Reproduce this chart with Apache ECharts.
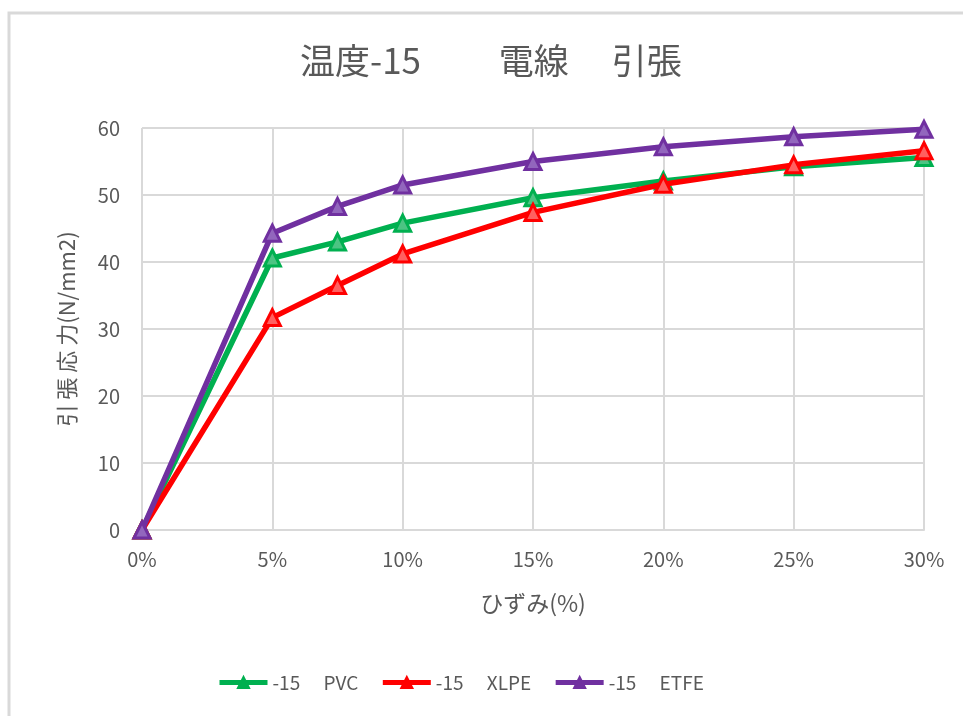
<!DOCTYPE html>
<html>
<head>
<meta charset="utf-8">
<script src="https://cdn.jsdelivr.net/npm/echarts@6/dist/echarts.min.js"></script>
<style>
html,body{margin:0;padding:0;background:#fff;}
#chart{width:963px;height:716px;}
</style>
</head>
<body>
<div id="chart"></div>
<script>
const strainPct = [0, 5, 7.5, 10, 15, 20, 25, 30];
const pvc  = [0, 40.6, 43.0, 45.8, 49.6, 52.1, 54.2, 55.6];
const xlpe = [0, 31.7, 36.5, 41.2, 47.4, 51.6, 54.5, 56.6];
const etfe = [0, 44.3, 48.3, 51.5, 55.0, 57.2, 58.7, 59.8];
const seriesNames = ['-15　 PVC', '-15　 XLPE', '-15　 ETFE'];
const seriesColors = ['#00b050', '#ff0000', '#7030a0'];
const markerFills = ['#4cc483', '#ff6060', '#9266bd'];
const titleText = '温度-15　　 電線　 引張';
const xAxisName = 'ひずみ(%)';
const yAxisName = '引 張 応 力(N/mm2)';

const font = '"Noto Sans CJK JP", "Noto Sans", sans-serif';
const txt = '#595959';
const grid = '#d9d9d9';

function pairs(ys){ return strainPct.map((x,i)=>[x, ys[i]]); }

const chart = echarts.init(document.getElementById('chart'), null, {renderer:'canvas'});
const allData = [pvc, xlpe, etfe];
chart.setOption({
  animation:false,
  backgroundColor:'#fff',
  title:{
    text:titleText, left:300, top:43, padding:0,
    textStyle:{fontFamily:font, fontSize:35, fontWeight:'normal', color:txt}
  },
  graphic:[{
    type:'rect', shape:{x:9, y:13, width:1000, height:800},
    style:{fill:'none', stroke:grid, lineWidth:3}, silent:true
  }],
  grid:{left:142, right:39, top:128, bottom:186, containLabel:false},
  legend:{
    bottom:24, left:217, padding:0, itemWidth:48, itemHeight:14, itemGap:22,
    textStyle:{fontFamily:font, fontSize:19, color:txt},
    data:seriesNames.map((n,i)=>({
      name:n,
      itemStyle:{color:seriesColors[i], borderColor:seriesColors[i]},
      lineStyle:{color:seriesColors[i], width:5}
    }))
  },
  xAxis:{
    type:'value', min:0, max:30, interval:5,
    name:xAxisName, nameLocation:'middle', nameGap:62,
    nameTextStyle:{fontFamily:font, fontSize:23, color:txt},
    axisLine:{show:true, lineStyle:{color:grid, width:2}},
    axisTick:{show:false},
    axisLabel:{formatter:'{value}%', fontFamily:font, fontSize:20, color:txt, margin:19},
    splitLine:{show:true, lineStyle:{color:grid, width:2}}
  },
  yAxis:{
    type:'value', min:0, max:60, interval:10,
    name:yAxisName, nameLocation:'middle', nameGap:64,
    nameTextStyle:{fontFamily:font, fontSize:22, color:txt},
    axisLine:{show:false}, axisTick:{show:false},
    axisLabel:{fontFamily:font, fontSize:20, color:txt, margin:22},
    splitLine:{show:true, lineStyle:{color:grid, width:2}}
  },
  series: seriesNames.map((n,i)=>({
    name:n, type:'line', data:pairs(allData[i]),
    symbol:'triangle', symbolSize:16,
    lineStyle:{color:seriesColors[i], width:5.5},
    itemStyle:{color:markerFills[i], borderColor:seriesColors[i], borderWidth:3},
    z:2+i
  }))
});
</script>
</body>
</html>
